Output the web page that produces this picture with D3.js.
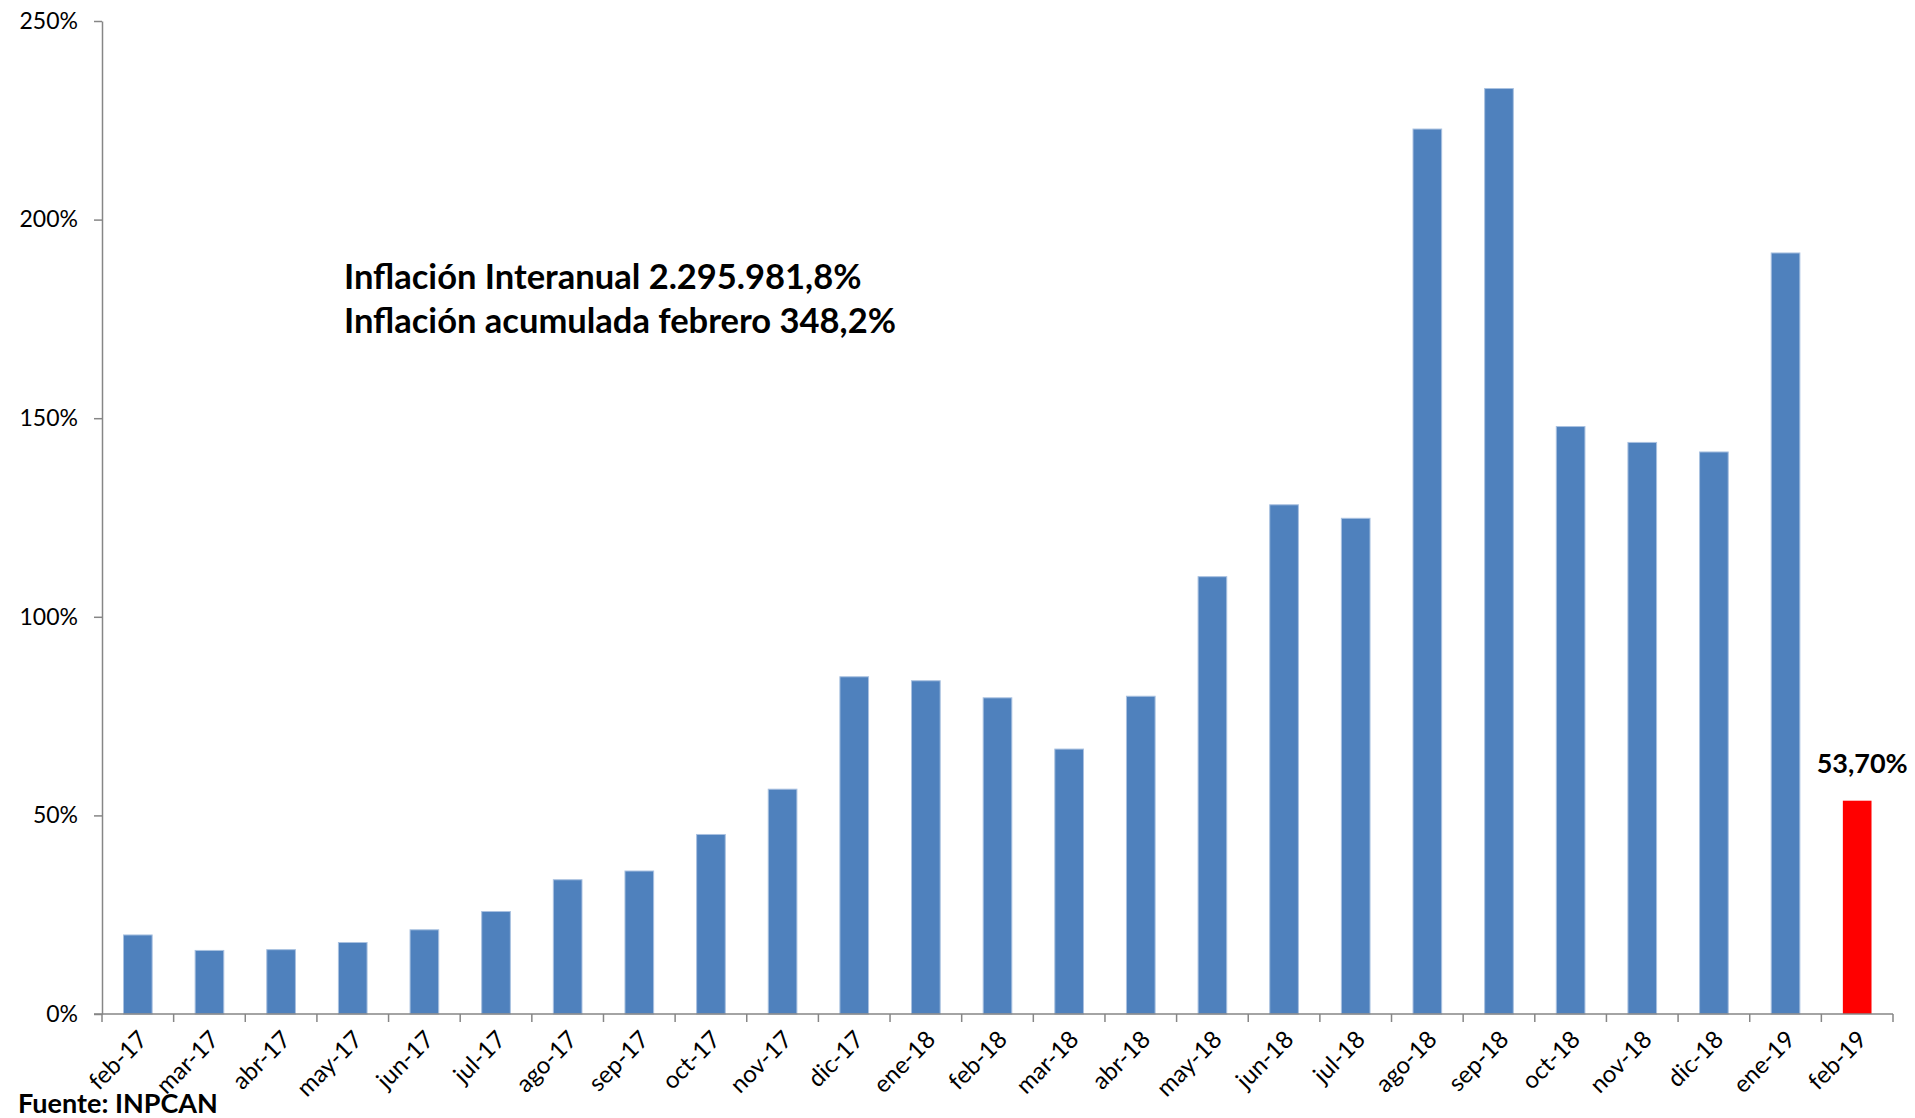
<!DOCTYPE html>
<html>
<head>
<meta charset="utf-8">
<script src="https://cdn.jsdelivr.net/npm/d3@7"></script>
<style>
	body { margin: 0; background: #fff; }
	text { font-family: Lato, "Open Sans", sans-serif; fill: #000; }
</style>
</head>
<body>
<div id="graph"></div>
<script>
// data
var months = ["feb-17", "mar-17", "abr-17", "may-17", "jun-17", "jul-17", "ago-17", "sep-17", "oct-17", "nov-17",
	"dic-17", "ene-18", "feb-18", "mar-18", "abr-18", "may-18", "jun-18", "jul-18", "ago-18", "sep-18",
	"oct-18", "nov-18", "dic-18", "ene-19", "feb-19"];
var inflation = [19.9, 16.0, 16.2, 18.0, 21.2, 25.8, 33.8, 36.0, 45.2, 56.6,
	84.9, 83.9, 79.6, 66.7, 80.0, 110.1, 128.2, 124.8, 222.8, 233.0,
	147.9, 143.9, 141.5, 191.6, 53.7];
var yTicks = [0, 50, 100, 150, 200, 250];
var highlight = "feb-19";
var highlightLabel = "53,70%";
var notes = ["Inflación Interanual 2.295.981,8%", "Inflación acumulada febrero 348,2%"];
var source = "Fuente: INPCAN";

var	SVGwidth = 1915,
	SVGheight = 1118,
	margin = {top: 21, right: 22, bottom: 104, left: 102},
	width = SVGwidth - margin.left - margin.right,
	height = SVGheight - margin.top - margin.bottom;

var axisColor = "#868686";

var svg = d3.select("div#graph")
	.append("svg")
	.attr("width", SVGwidth)
	.attr("height", SVGheight);

var g = svg.append("g").attr("transform", "translate(" + margin.left + "," + margin.top + ")");

var x = d3.scaleBand()
	.domain(months)
	.range([0, width])
	.paddingInner(0.6)
	.paddingOuter(0.3);

var y = d3.scaleLinear()
	.domain([0, 250])
	.range([height, 0]);

// y axis
var yAxis = d3.axisLeft(y)
	.tickValues(yTicks)
	.tickSize(8)
	.tickSizeOuter(0)
	.tickPadding(16)
	.tickFormat(function(d) { return d + "%"; });

var yG = g.append("g").call(yAxis);
yG.select(".domain").attr("stroke", axisColor).attr("stroke-width", 1.5);
yG.selectAll(".tick line").attr("stroke", axisColor).attr("stroke-width", 1.5);
yG.selectAll(".tick text").style("font-size", "23px").attr("fill", "#000");

// bars
g.selectAll("rect.bar")
	.data(months)
	.enter()
	.append("rect")
	.attr("class", "bar")
	.attr("x", function(d) { return x(d); })
	.attr("width", x.bandwidth())
	.attr("y", function(d, i) { return y(inflation[i]); })
	.attr("height", function(d, i) { return height - y(inflation[i]); })
	.attr("fill", function(d) { return d == highlight ? "#FF0000" : "#4F81BD"; })
	.attr("stroke", function(d) { return d == highlight ? "none" : "#A9C1E0"; })
	.attr("stroke-width", 1);

// x axis (ticks sit between the categories)
var bounds = months.map(function(d) { return x(d) - x.step() * x.paddingOuter(); });
bounds.push(width);

var xG = g.append("g").attr("transform", "translate(0," + height + ")");
xG.append("line")
	.attr("x1", -8).attr("x2", width)
	.attr("stroke", axisColor).attr("stroke-width", 1.5);
xG.selectAll("line.tick")
	.data(bounds)
	.enter()
	.append("line")
	.attr("class", "tick")
	.attr("x1", function(d) { return d; })
	.attr("x2", function(d) { return d; })
	.attr("y1", 0).attr("y2", 8)
	.attr("stroke", axisColor).attr("stroke-width", 1.5);
xG.selectAll("text")
	.data(months)
	.enter()
	.append("text")
	.attr("transform", function(d) { return "translate(" + (x(d) + x.bandwidth() / 2 + 11) + ",27) rotate(-45)"; })
	.attr("text-anchor", "end")
	.style("font-size", "24px")
	.text(function(d) { return d; });

// value label on highlighted bar
var hi = months.indexOf(highlight);
g.append("text")
	.attr("x", x(highlight) + x.bandwidth() / 2 + 5)
	.attr("y", y(inflation[hi]) - 28)
	.attr("text-anchor", "middle")
	.style("font-size", "27px")
	.style("font-weight", "bold")
	.text(highlightLabel);

// notes
svg.selectAll("text.note")
	.data(notes)
	.enter()
	.append("text")
	.attr("class", "note")
	.attr("x", 344)
	.attr("y", function(d, i) { return 289 + i * 44; })
	.style("font-size", "34.5px")
	.style("font-weight", "bold")
	.text(function(d) { return d; });

svg.append("text")
	.attr("x", 18)
	.attr("y", 1113)
	.style("font-size", "27px")
	.style("font-weight", "bold")
	.text(source);
</script>
</body>
</html>
